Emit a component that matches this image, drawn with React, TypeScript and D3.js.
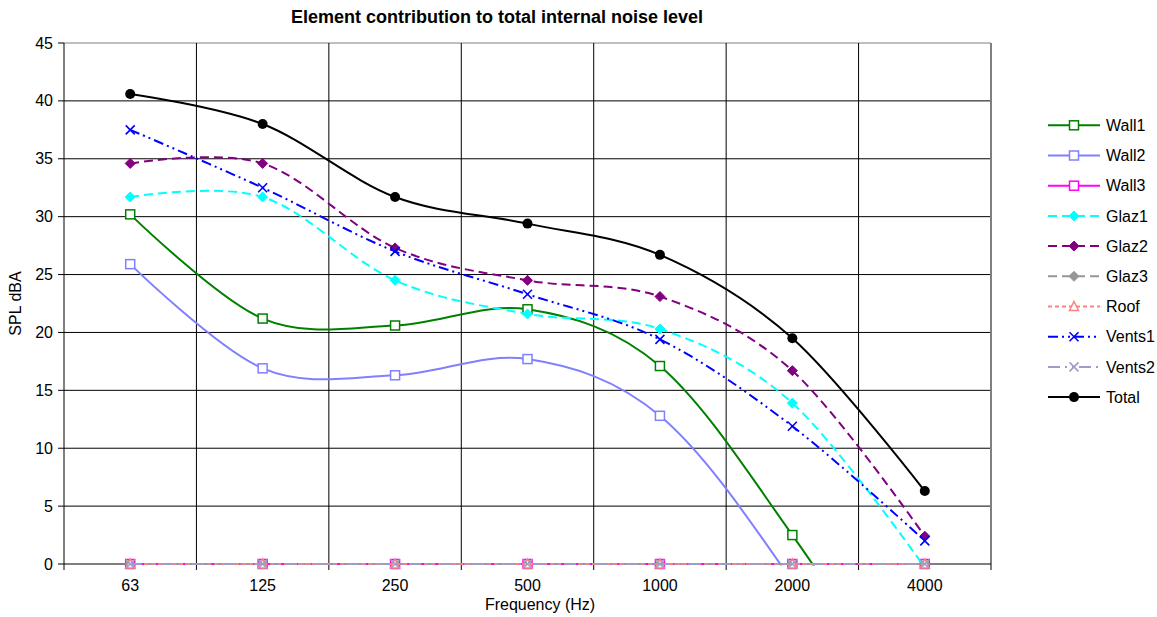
import React, { useRef, useEffect } from 'react';
import * as d3 from 'd3';

// octave band centre frequencies (Hz)
const frequencies = ['63', '125', '250', '500', '1000', '2000', '4000'];

// SPL dBA per element (negative values fall below the axis)
const wall1 = [30.2, 21.2, 20.6, 22.0, 17.1, 2.5, -15];
const wall2 = [25.9, 16.9, 16.3, 17.7, 12.8, -1.5, -20];
const wall3 = [0, 0, 0, 0, 0, 0, 0];
const glaz1 = [31.7, 31.7, 24.5, 21.6, 20.3, 13.9, -0.3];
const glaz2 = [34.6, 34.6, 27.3, 24.5, 23.1, 16.7, 2.4];
const glaz3 = [0, 0, 0, 0, 0, 0, 0];
const roof = [0, 0, 0, 0, 0, 0, 0];
const vents1 = [37.5, 32.5, 27.0, 23.3, 19.4, 11.9, 2.0];
const vents2 = [0, 0, 0, 0, 0, 0, 0];
const total = [40.6, 38.0, 31.7, 29.4, 26.7, 19.5, 6.3];

const yTicks = [0, 5, 10, 15, 20, 25, 30, 35, 40, 45];

type Marker = 'square' | 'diamond' | 'triangle' | 'cross' | 'circle';

interface Series {
  name: string;
  values: number[];
  color: string;
  dash: string | null;
  marker: Marker;
}

const series: Series[] = [
  { name: 'Wall1', values: wall1, color: '#008000', dash: null, marker: 'square' },
  { name: 'Wall2', values: wall2, color: '#8080ff', dash: null, marker: 'square' },
  { name: 'Wall3', values: wall3, color: '#ff00ff', dash: null, marker: 'square' },
  { name: 'Glaz1', values: glaz1, color: '#00ffff', dash: '9,5', marker: 'diamond' },
  { name: 'Glaz2', values: glaz2, color: '#800080', dash: '9,5', marker: 'diamond' },
  { name: 'Glaz3', values: glaz3, color: '#969696', dash: '9,5', marker: 'diamond' },
  { name: 'Roof', values: roof, color: '#ff8080', dash: '4,3', marker: 'triangle' },
  { name: 'Vents1', values: vents1, color: '#0000ff', dash: '10,4,2,4,2,4', marker: 'cross' },
  { name: 'Vents2', values: vents2, color: '#a09cc8', dash: '12,5,2,5,2,5', marker: 'cross' },
  { name: 'Total', values: total, color: '#000000', dash: null, marker: 'circle' },
];

const W = 1157;
const H = 617;
const FONT = '"Liberation Sans", Arial, sans-serif';

const drawMarker = (
  g: d3.Selection<SVGGElement, unknown, null, undefined>,
  type: Marker,
  x: number,
  y: number,
  color: string
) => {
  if (type === 'square') {
    g.append('rect')
      .attr('x', x - 4.5).attr('y', y - 4.5)
      .attr('width', 9).attr('height', 9)
      .attr('fill', '#fff').attr('stroke', color).attr('stroke-width', 1.5);
  } else if (type === 'diamond') {
    g.append('path')
      .attr('d', `M${x},${y - 5}L${x + 5},${y}L${x},${y + 5}L${x - 5},${y}Z`)
      .attr('fill', color).attr('stroke', color).attr('stroke-width', 1);
  } else if (type === 'triangle') {
    g.append('path')
      .attr('d', `M${x},${y - 5}L${x + 4.5},${y + 4}L${x - 4.5},${y + 4}Z`)
      .attr('fill', '#fff').attr('stroke', color).attr('stroke-width', 1.5);
  } else if (type === 'cross') {
    g.append('path')
      .attr('d', `M${x - 4.5},${y - 4.5}L${x + 4.5},${y + 4.5}M${x + 4.5},${y - 4.5}L${x - 4.5},${y + 4.5}`)
      .attr('fill', 'none').attr('stroke', color).attr('stroke-width', 1.6);
  } else {
    g.append('circle')
      .attr('cx', x).attr('cy', y).attr('r', 5)
      .attr('fill', color);
  }
};

const App: React.FC = () => {
  const svgRef = useRef<SVGSVGElement>(null);

  useEffect(() => {
    if (!svgRef.current) return;
    const svg = d3.select(svgRef.current);
    svg.selectAll('*').remove();

    const left = 64, right = 991, top = 43, bottom = 564;

    const x = d3.scaleBand<string>().domain(frequencies).range([left, right]).padding(0);
    const y = d3.scaleLinear().domain([0, 45]).range([bottom, top]);
    const cx = (f: string) => (x(f) as number) + x.bandwidth() / 2;

    svg.append('rect').attr('width', W).attr('height', H).attr('fill', '#fff');

    // gridlines
    const grid = svg.append('g');
    yTicks.filter(t => t > 0).forEach(t => {
      grid.append('line')
        .attr('x1', left).attr('x2', right)
        .attr('y1', y(t)).attr('y2', y(t))
        .attr('stroke', t === 45 ? '#808080' : '#000').attr('stroke-width', 1);
    });
    frequencies.slice(1).forEach(f => {
      grid.append('line')
        .attr('x1', x(f) as number).attr('x2', x(f) as number)
        .attr('y1', top).attr('y2', bottom)
        .attr('stroke', '#000').attr('stroke-width', 1);
    });
    // right border of plot area
    grid.append('line')
      .attr('x1', right).attr('x2', right).attr('y1', top).attr('y2', bottom)
      .attr('stroke', '#808080').attr('stroke-width', 2);

    // axes
    const axes = svg.append('g').attr('font-family', FONT).attr('font-size', 16).attr('fill', '#000');
    axes.append('line').attr('x1', left).attr('x2', left).attr('y1', top).attr('y2', bottom).attr('stroke', '#000');
    axes.append('line').attr('x1', left).attr('x2', right).attr('y1', bottom).attr('y2', bottom).attr('stroke', '#000');
    yTicks.forEach(t => {
      axes.append('line').attr('x1', left - 6).attr('x2', left).attr('y1', y(t)).attr('y2', y(t)).attr('stroke', '#000');
      axes.append('text')
        .attr('x', left - 11).attr('y', y(t)).attr('dy', '0.35em')
        .attr('text-anchor', 'end').text(t);
    });
    const bounds = frequencies.map(f => x(f) as number).concat([right]);
    bounds.forEach(b => {
      axes.append('line').attr('x1', b).attr('x2', b).attr('y1', bottom).attr('y2', bottom + 6).attr('stroke', '#000');
    });
    frequencies.forEach(f => {
      axes.append('text')
        .attr('x', cx(f)).attr('y', bottom + 27)
        .attr('text-anchor', 'middle').text(f);
    });
    axes.append('text')
      .attr('x', 540).attr('y', 610)
      .attr('text-anchor', 'middle').text('Frequency (Hz)');
    axes.append('text')
      .attr('transform', `translate(21,${(top + bottom) / 2}) rotate(-90)`)
      .attr('text-anchor', 'middle').text('SPL dBA');

    // title
    svg.append('text')
      .attr('x', 497).attr('y', 23)
      .attr('text-anchor', 'middle')
      .attr('font-family', FONT).attr('font-size', 18).attr('font-weight', 'bold')
      .text('Element contribution to total internal noise level');

    // clip for curves
    svg.append('defs').append('clipPath').attr('id', 'plotClip')
      .append('rect').attr('x', left).attr('y', top).attr('width', right - left).attr('height', bottom - top + 1.5);

    const line = d3.line<number>()
      .x((_, i) => cx(frequencies[i]))
      .y(d => y(d))
      .curve(d3.curveCardinal.tension(0));

    const plot = svg.append('g');
    series.forEach(s => {
      const g = plot.append('g');
      g.append('path')
        .attr('clip-path', 'url(#plotClip)')
        .attr('d', line(s.values))
        .attr('fill', 'none')
        .attr('stroke', s.color)
        .attr('stroke-width', 2)
        .attr('stroke-dasharray', s.dash ?? null);
      s.values.forEach((v, i) => {
        if (v < 0 || v > 45) return;
        drawMarker(g, s.marker, cx(frequencies[i]), y(v), s.color);
      });
    });

    // legend
    const legend = svg.append('g').attr('font-family', FONT).attr('font-size', 16);
    series.forEach((s, i) => {
      const ly = 125.3 + i * 30.2;
      const g = legend.append('g');
      g.append('line')
        .attr('x1', 1048).attr('x2', 1100).attr('y1', ly).attr('y2', ly)
        .attr('stroke', s.color).attr('stroke-width', 2)
        .attr('stroke-dasharray', s.dash ?? null);
      drawMarker(g, s.marker, 1074, ly, s.color);
      g.append('text')
        .attr('x', 1106).attr('y', ly).attr('dy', '0.35em')
        .attr('fill', '#000').text(s.name);
    });
  }, []);

  return (
    <svg
      ref={svgRef}
      width={W}
      height={H}
      style={{ position: 'absolute', left: 0, top: 0, display: 'block' }}
    />
  );
};

export default App;
